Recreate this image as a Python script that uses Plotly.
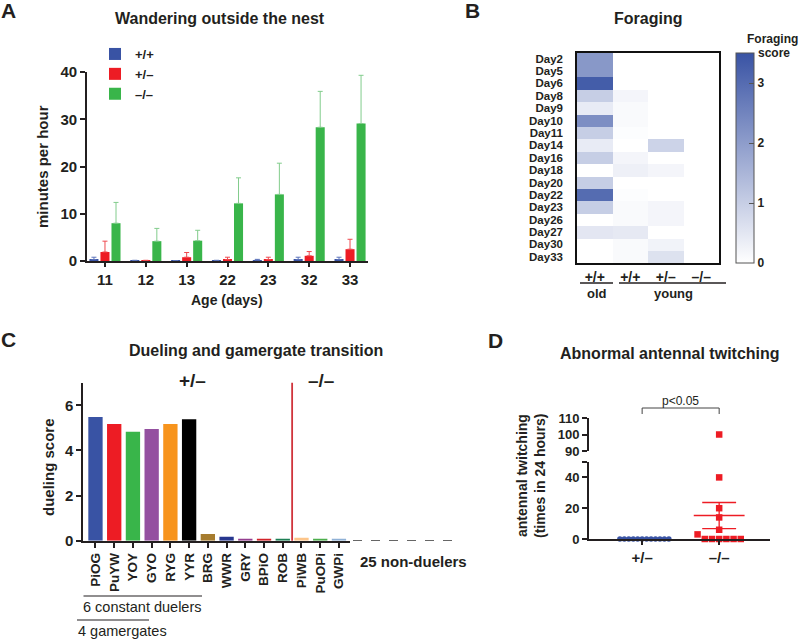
import numpy as np
import plotly.graph_objects as go

W, H = 800, 640
FONT = "Liberation Sans, Arial, sans-serif"
INK = "#231f20"

def px(p):
    return p / W

def py(p):
    return 1 - p / H

# ---------------- Panel A data ----------------
ages = ["11", "12", "13", "22", "23", "32", "33"]
wt_mean = [0.3, 0.1, 0.05, 0.1, 0.2, 0.3, 0.3]
wt_err = [0.5, 0.05, 0.05, 0.05, 0.15, 0.5, 0.5]
het_mean = [1.9, 0.1, 0.8, 0.3, 0.3, 1.1, 2.5]
het_err = [2.3, 0.05, 1.0, 0.5, 0.5, 0.9, 2.1]
hom_mean = [8.0, 4.2, 4.3, 12.2, 14.1, 28.3, 29.1]
hom_err = [4.4, 2.7, 2.2, 5.4, 6.6, 7.6, 10.2]
genotypes_A = ["+/+", "+/–", "–/–"]

# ---------------- Panel B data ----------------
days = ["Day2", "Day5", "Day6", "Day8", "Day9", "Day10", "Day11", "Day14", "Day16",
        "Day18", "Day20", "Day22", "Day23", "Day26", "Day27", "Day30", "Day33"]
old_wt = [2.1, 2.1, 3.3, 1.0, 0.4, 2.3, 1.0, 0.4, 1.0, 0.0, 1.0, 3.0, 1.0, 0.0, 0.5, 0.0, 0.0]
young_wt = [0.0, 0.0, 0.0, 0.2, 0.1, 0.1, 0.05, 0.0, 0.2, 0.3, 0.0, 0.05, 0.1, 0.1, 0.45, 0.1, 0.1]
young_het = [0.0, 0.0, 0.0, 0.0, 0.0, 0.0, 0.0, 0.9, 0.0, 0.2, 0.0, 0.0, 0.2, 0.2, 0.0, 0.25, 0.6]
young_hom = [0.0] * 17
col_labels_B = ["+/+", "+/+", "+/–", "–/–"]

# ---------------- Panel C data ----------------
ants = ["PiOG", "PuYW", "YOY", "GYO", "RYG", "YYR", "BRG", "WWR", "GRY", "BPiO", "ROB",
        "PiWB", "PuOPi", "GWPi"]
ant_genotype = ["+/–"] * 11 + ["–/–"] * 3
dueling = [5.48, 5.17, 4.83, 4.95, 5.17, 5.38, 0.30, 0.18, 0.08, 0.07, 0.07, 0.13, 0.06, 0.05]
ant_colors = ["#3953a4", "#ed1c24", "#39b54a", "#9450a0", "#f7941d", "#000000", "#a67c2e",
              "#27378f", "#943e8f", "#d2232a", "#1e7f55", "#fdc58a", "#4cae4c", "#8fb1d6"]
n_nonduelers = 25

# ---------------- Panel D data ----------------
twitch_het = [0] * 12
twitch_hom = [0, 0, 0, 0, 0, 0, 3, 6, 14, 20, 40, 100]
genotypes_D = ["+/–", "–/–"]

fig = go.Figure()

# ---- Panel A bars ----
bar_cols = ["#3953a4", "#ed1c24", "#39b54a"]
err_cols = ["#5d74bb", "#ef4a4f", "#82cc8c"]
for name, vals, errs, c, ec in zip(genotypes_A, [wt_mean, het_mean, hom_mean],
                                   [wt_err, het_err, hom_err], bar_cols, err_cols):
    fig.add_trace(go.Bar(
        x=ages, y=vals, name=name, marker=dict(color=c, line=dict(width=0)),
        error_y=dict(type="data", array=errs, arrayminus=[0] * len(errs), symmetric=False,
                     color=ec, thickness=1, width=2.5),
        xaxis="x", yaxis="y"))

# ---- Panel B heatmap ----
z = [list(r) for r in zip(old_wt, young_wt, young_het, young_hom)]
fig.add_trace(go.Heatmap(
    z=z, x=list(range(len(col_labels_B))), y=days, xaxis="x2", yaxis="y2",
    zmin=0, zmax=3.5, colorscale=[[0, "#ffffff"], [1, "#3953a4"]],
    showscale=True,
    colorbar=dict(x=px(736), xanchor="left", y=py(158), yanchor="middle",
                  len=210 / H, lenmode="fraction", thickness=18, thicknessmode="pixels",
                  xpad=0, ypad=0, outlinewidth=1, outlinecolor="#555555",
                  tickvals=[0, 1, 2, 3], ticks="inside", ticklen=5, tickcolor="#555555",
                  tickfont=dict(family=FONT, size=12, color=INK, weight="bold")),
    showlegend=False))

# ---- Panel C bars ----
fig.add_trace(go.Bar(x=ants, y=dueling, marker=dict(color=ant_colors, line=dict(width=0)),
                     width=0.765, xaxis="x3", yaxis="y3", showlegend=False))

# ---- Panel D swarm ----
D_XPX = 77.0           # pixels per category unit on panel D x axis
D_YPX_LOW = 77.0 / 50  # pixels per unit, lower segment


def swarm(vals, step_px, size_px):
    order = np.argsort(vals, kind="stable")
    seq = [0]
    for k in range(1, len(vals) + 1):
        seq += [k, -k]
    offs = np.zeros(len(vals))
    row_base = None
    idx_in_row = 0
    for i in order:
        ypix = vals[i] * D_YPX_LOW
        if row_base is None or ypix - row_base >= size_px:
            row_base = ypix
            idx_in_row = 0
        offs[i] = seq[idx_in_row] * step_px / D_XPX
        idx_in_row += 1
    return offs


het_off = swarm(np.array(twitch_het, float), 4.45, 5)
hom_off = swarm(np.array(twitch_hom, float), 7.2, 7)
hom_arr = np.array(twitch_hom, float)
low = hom_arr <= 50

fig.add_trace(go.Scatter(x=0 + het_off, y=twitch_het, mode="markers", xaxis="x4", yaxis="y4",
                         marker=dict(symbol="circle", size=5.5, color="#3953a4"),
                         cliponaxis=False, showlegend=False))
fig.add_trace(go.Scatter(x=(1 + hom_off)[low], y=hom_arr[low], mode="markers", xaxis="x4",
                         yaxis="y4", marker=dict(symbol="square", size=6.5, color="#ed1c24"),
                         cliponaxis=False, showlegend=False))
fig.add_trace(go.Scatter(x=(1 + hom_off)[~low], y=hom_arr[~low], mode="markers", xaxis="x4",
                         yaxis="y5", marker=dict(symbol="square", size=6.5, color="#ed1c24"),
                         cliponaxis=False, showlegend=False))
m = hom_arr.mean()
sem = hom_arr.std(ddof=1) / np.sqrt(len(hom_arr))
mx, cx = 0.33, 0.22
fig.add_trace(go.Scatter(
    x=[1 - mx, 1 + mx, None, 1 - cx, 1 + cx, None, 1 - cx, 1 + cx, None, 1, 1],
    y=[m, m, None, m + sem, m + sem, None, m - sem, m - sem, None, m - sem, m + sem],
    mode="lines", line=dict(color="#ed1c24", width=1.3), xaxis="x4", yaxis="y4",
    showlegend=False, hoverinfo="skip"))

# ---------------- Layout ----------------
tick_bold = lambda s: dict(family=FONT, size=s, color=INK, weight="bold")
ax_common = dict(showline=True, linecolor=INK, linewidth=1.8, showgrid=False, zeroline=False,
                 tickcolor=INK, tickwidth=1.5)

layout = dict(
    width=W, height=H, margin=dict(l=0, r=0, t=0, b=0, pad=0, autoexpand=False),
    paper_bgcolor="white", plot_bgcolor="white",
    font=dict(family=FONT, color=INK),
    barmode="group", bargap=0.19, bargroupgap=0.18,
    showlegend=True,
    legend=dict(x=px(95), y=py(39), xanchor="left", yanchor="top",
                font=dict(family=FONT, size=13, color=INK, weight="bold"),
                bgcolor="rgba(0,0,0,0)", tracegroupgap=0, itemwidth=30),
    xaxis=dict(domain=[px(87), px(368)], anchor="y", type="category", range=[-0.44, 6.44],
               ticks="outside", ticklen=4, tickfont=tick_bold(15), **ax_common),
    yaxis=dict(domain=[py(261), py(72)], anchor="x", range=[0, 40],
               tickvals=[0, 10, 20, 30, 40], ticks="outside", ticklen=5,
               tickfont=tick_bold(15), **ax_common),
    xaxis2=dict(domain=[px(577), px(719)], anchor="y2", range=[-0.5, 3.5],
                tickvals=list(range(4)), ticktext=col_labels_B, ticks="",
                mirror=True, tickfont=tick_bold(14), ticklabelstandoff=0,
                showline=True, linecolor="#111111", linewidth=1.5, showgrid=False,
                zeroline=False),
    yaxis2=dict(domain=[py(263), py(52.5)], anchor="x2", type="category",
                autorange="reversed", ticks="", mirror=True, tickfont=tick_bold(11.5),
                tickmode="array", tickvals=days, ticktext=days,
                ticklabelstandoff=10, showline=True, linecolor="#111111", linewidth=1.5,
                showgrid=False, zeroline=False),
    xaxis3=dict(domain=[px(83.3), px(350)], anchor="y3", type="category",
                range=[-0.65, 13.59], tickangle=-90, ticks="outside", ticklen=5,
                tickfont=tick_bold(13.5), **ax_common),
    yaxis3=dict(domain=[py(540.7), py(382.7)], anchor="x3", range=[0, 7],
                tickvals=[0, 2, 4, 6], ticks="outside", ticklen=5, tickfont=tick_bold(15),
                **ax_common),
    xaxis4=dict(domain=[px(589), px(770)], anchor="y4", range=[-0.69, 1.66],
                tickvals=[0, 1], ticktext=genotypes_D, ticks="outside", ticklen=4,
                tickfont=tick_bold(15), **ax_common),
    yaxis4=dict(domain=[py(539), py(462)], anchor="x4", range=[0, 50],
                tickvals=[0, 20, 40, 50], ticktext=["0", "20", "40", ""], ticks="outside",
                ticklen=5, tickfont=tick_bold(13), **ax_common),
    yaxis5=dict(domain=[py(451), py(418)], anchor="x4", range=[90, 110],
                tickvals=[90, 100, 110], ticks="outside", ticklen=5,
                tickfont=tick_bold(13), **ax_common),
)
fig.update_layout(**layout)


def ann(text, x, y, size, bold=True, angle=0, xanchor="center", family=FONT):
    fig.add_annotation(text=text, x=px(x), y=py(y), xref="paper", yref="paper",
                       showarrow=False, xanchor=xanchor, yanchor="middle", textangle=angle,
                       font=dict(family=family, size=size, color=INK,
                                 weight="bold" if bold else "normal"))


LETTER = "Liberation Sans Narrow, Liberation Sans, Arial"
ann("A", 8, 10, 21, family=LETTER)
ann("B", 472, 10, 21, family=LETTER)
ann("C", 8, 339, 21, family=LETTER)
ann("D", 495, 340, 21, family=LETTER)

ann("Wandering outside the nest", 220, 19, 16)
ann("minutes per hour", 42, 167, 15, angle=-90)
ann("Age (days)", 227, 300, 14)

ann("Foraging", 772, 39, 12)
ann("Foraging", 648, 19, 16)
ann("score", 774, 53, 12)
ann("old", 597, 293, 13)
ann("young", 673, 293, 13)

ann("Dueling and gamergate transition", 256, 350, 16)
ann("dueling score", 48, 467, 15, angle=-90)
ann(ant_genotype[0], 192, 380, 19)
ann(ant_genotype[-1], 321, 380, 19)
ann(f"{n_nonduelers} non-duelers", 414, 561, 15)
ann("6 constant duelers", 142, 607, 14.5, bold=False)
ann("4 gamergates", 122, 631, 14.5, bold=False)

ann("Abnormal antennal twitching", 670, 353, 16)
ann("antennal twitching", 522, 476, 14, angle=-90)
ann("(times in 24 hours)", 540, 476, 14, angle=-90)
ann("p<0.05", 680, 401, 12, bold=False)

# shapes
n_het = ant_genotype.count("+/–")
fig.add_shape(type="line", xref="x3", yref="y3", x0=n_het - 0.5, x1=n_het - 0.5,
              y0=-0.27, y1=7.68, line=dict(color="#d0343c", width=1.8))
fig.add_shape(type="line", xref="paper", yref="y3", x0=px(353), x1=px(459), y0=0, y1=0,
              line=dict(color="#333333", width=1.3, dash="dash"))
fig.add_shape(type="line", xref="paper", yref="paper", x0=px(83.5), x1=px(202),
              y0=py(596), y1=py(596), line=dict(color=INK, width=1.2))
fig.add_shape(type="line", xref="paper", yref="paper", x0=px(77), x1=px(149),
              y0=py(620), y1=py(620), line=dict(color=INK, width=1.2))
fig.add_shape(type="line", xref="paper", yref="paper", x0=px(580), x1=px(613),
              y0=py(283), y1=py(283), line=dict(color=INK, width=1.5))
fig.add_shape(type="line", xref="paper", yref="paper", x0=px(619), x1=px(726),
              y0=py(283), y1=py(283), line=dict(color=INK, width=1.5))
fig.add_shape(type="path", xref="x4", yref="paper",
              path=f"M 0,{py(414)} L 0,{py(408)} L 1,{py(408)} L 1,{py(414)}",
              line=dict(color="#444444", width=1))

fig.write_html("out.html", config={"displayModeBar": False},
               post_script="document.body.style.margin='0px';"
                           "document.body.style.overflow='hidden';")
